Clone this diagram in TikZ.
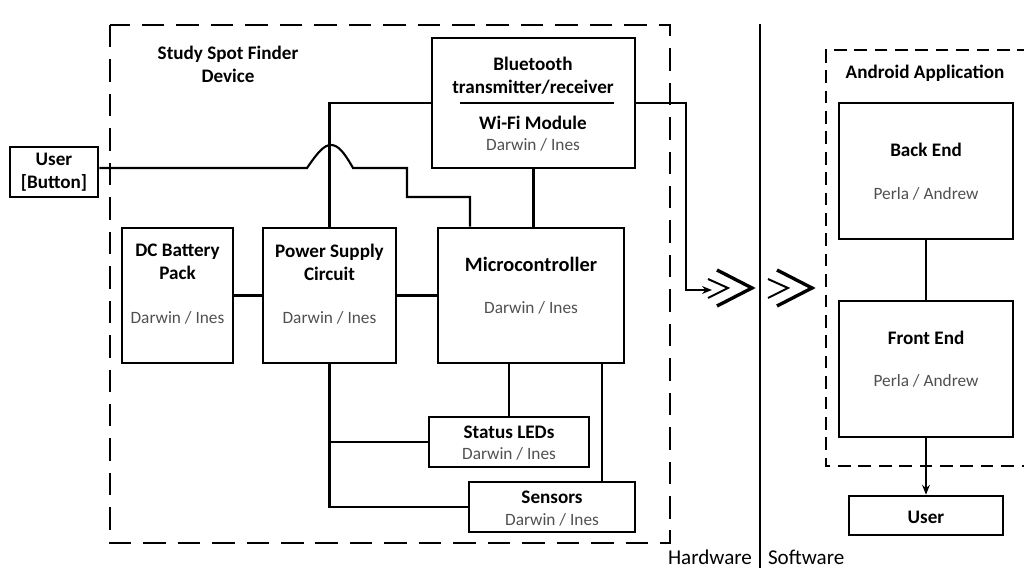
\documentclass[tikz,border=0pt]{standalone}
\usepackage{fontspec}
\setmainfont{Carlito}
\usetikzlibrary{arrows.meta}

\definecolor{namegray}{HTML}{505050}

\begin{document}
\begin{tikzpicture}[x = 0.025cm, y = -0.025cm, line width = 1.5pt,
                      box/.style = {draw, line width = 1.8pt, inner sep = 0pt},
                      title/.style = {font = \bfseries\fontsize{13.6}{16.5}\selectfont, align = center, inner sep = 0pt},
                      who/.style = {font = \fontsize{12.3}{14.5}\selectfont, text = namegray, inner sep = 0pt},
                      frame/.style = {line width = 1.7pt, dash pattern = on 16pt off 8.5pt},
                      appframe/.style = {line width = 1.7pt, dash pattern = on 9pt off 5.5pt},
                      tip/.style = {-{Stealth[length = 7pt, width = 5.5pt]}}]
    \useasboundingbox (0,0) rectangle (1024,577);

    \draw [frame] (110,25) rectangle (670,543);
    \draw [appframe] (1030,50) -- (826,50) -- (826,466) -- (1030,466);
    \draw [line width = 1.3pt] (760,24) -- (760,568);

    \node [box, minimum width = 2.2cm, minimum height = 1.25cm] (btn) at (54,172){};
    \node [box, minimum width = 5.075cm, minimum height = 3.25cm] (bt) at (533.5,103){};
    \node [box, minimum width = 2.775cm, minimum height = 3.375cm] (battery) at (177.5,295.5){};
    \node [box, minimum width = 3.325cm, minimum height = 3.375cm] (power) at (329.5,295.5){};
    \node [box, minimum width = 4.65cm, minimum height = 3.375cm] (micro) at (531,295.5){};
    \node [box, minimum width = 4cm, minimum height = 1.25cm] (leds) at (509,442){};
    \node [box, minimum width = 4.15cm, minimum height = 1.25cm] (sensors) at (552,507){};
    \node [box, minimum width = 4.35cm, minimum height = 3.4cm] (back) at (926,171){};
    \node [box, minimum width = 4.35cm, minimum height = 3.4cm] (front) at (926,369){};
    \node [box, minimum width = 3.85cm, minimum height = 0.975cm] (user) at (926,515.5){};

    \node [title] (devtitle) at (228,64) {Study Spot Finder\\Device};
    \node [title] (apptitle) at (925,73) {Android Application};
    \node [title] (btntext) at (54,172) {User\\{[}Button{]}};
    \node [title] (bttext) at (533,76) {Bluetooth\\transmitter/receiver};
    \node [title] (wifitext) at (533,123) {Wi-Fi Module};
    \node [who] (btwho) at (533,145) {Darwin / Ines};
    \node [title] (battext) at (177.5,262) {DC Battery\\Pack};
    \node [who] (batwho) at (177.5,318) {Darwin / Ines};
    \node [title] (powtext) at (329.5,262) {Power Supply\\Circuit};
    \node [who] (powwho) at (329.5,318) {Darwin / Ines};
    \node [title, font = \bfseries\fontsize{14.5}{17}\selectfont] (mictext) at (531,264) {Microcontroller};
    \node [who] (micwho) at (531,308) {Darwin / Ines};
    \node [title] (ledtext) at (509,432) {Status LEDs};
    \node [who] (ledwho) at (509,454) {Darwin / Ines};
    \node [title] (sentext) at (552,497) {Sensors};
    \node [who] (senwho) at (552,520) {Darwin / Ines};
    \node [title] (backtext) at (926,150) {Back End};
    \node [who] (backwho) at (926,194) {Perla / Andrew};
    \node [title] (fronttext) at (926,338) {Front End};
    \node [who] (frontwho) at (926,381) {Perla / Andrew};
    \node [title] (usertext) at (926,517) {User};
    \node [font = \fontsize{15}{18}\selectfont, anchor = east, inner sep = 0pt] (hw) at (753,557) {Hardware};
    \node [font = \fontsize{15}{18}\selectfont, anchor = west, inner sep = 0pt] (sw) at (767,557) {Software};

    \draw [line width = 1.6pt] (460,103) -- (614,103);

    \coordinate (jl) at (307,168);
    \coordinate (jm) at (470,0);
    \coordinate (ms) at (602,0);
    \coordinate (chev) at (712,290);

    \draw (battery.east) -- (power.west);
    \draw (power.east) -- (micro.west);
    \draw (power.north) |- (bt.west);
    \draw (bt.south) -- (bt.south |- micro.north);
    \draw (btn.east |- jl) -- (jl) .. controls (318,152) and (324,145) .. (331,145)
          .. controls (338,145) and (344,152) .. (353,168) -| (407,197) -| (micro.north -| jm);
    \draw (micro.south -| leds.north) -- (leds.north);
    \draw (micro.south -| ms) -- (sensors.north -| ms);
    \draw (power.south) |- (leds.west);
    \draw (power.south) |- (sensors.west);
    \draw [tip] (bt.east) -| (686,290) -- (chev);
    \draw (back.south) -- (front.north);
    \draw [tip] (front.south) -- (user.north);

    \foreach \x in {0, 60}{
        \draw [line width = 1.4pt] (708+\x,279) -- (728+\x,288) -- (708+\x,298);
        \draw [line width = 2.4pt] (717+\x,270) -- (752+\x,288) -- (717+\x,306);
    }
    \end{tikzpicture}
\end{document}
